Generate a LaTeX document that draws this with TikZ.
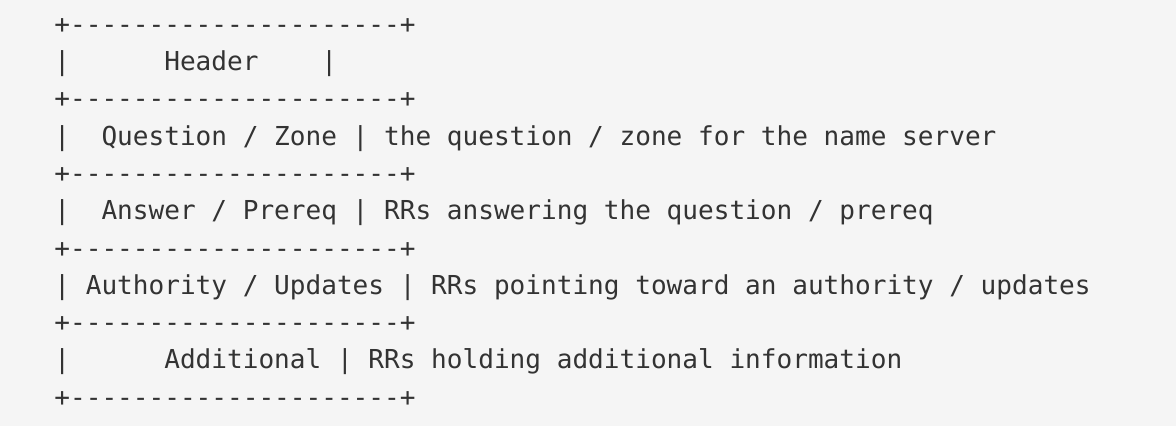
\documentclass[tikz,border=0pt]{standalone}
\usepackage{fontspec}
\setmonofont{DejaVu Sans Mono}
\usepackage{xcolor}
\usepackage{tikz}
\definecolor{pagebg}{HTML}{F5F5F5}
\definecolor{ink}{HTML}{333333}

\begin{document}
\begin{tikzpicture}[x=1pt,y=1pt,ln/.style={anchor=base west,inner sep=0pt,text=ink,font=\fontsize{13.04}{15}\ttfamily}]
\fill[pagebg] (0,0) rectangle (588,-213);
\useasboundingbox (0,0) rectangle (588,-213);
\node[ln] (r0) at (27,-16.65) {+---------------------+};
\node[ln] (r1) at (27,-35.30) {|~~~~~~Header~~~~|};
\node[ln] (r2) at (27,-53.95) {+---------------------+};
\node[ln] (r3) at (27,-72.60) {|~~Question / Zone | the question / zone for the name server};
\node[ln] (r4) at (27,-91.25) {+---------------------+};
\node[ln] (r5) at (27,-109.90) {|~~Answer / Prereq | RRs answering the question / prereq};
\node[ln] (r6) at (27,-128.55) {+---------------------+};
\node[ln] (r7) at (27,-147.20) {| Authority / Updates | RRs pointing toward an authority / updates};
\node[ln] (r8) at (27,-165.85) {+---------------------+};
\node[ln] (r9) at (27,-184.50) {|~~~~~~Additional | RRs holding additional information};
\node[ln] (r10) at (27,-203.15) {+---------------------+};
\end{tikzpicture}
\end{document}
